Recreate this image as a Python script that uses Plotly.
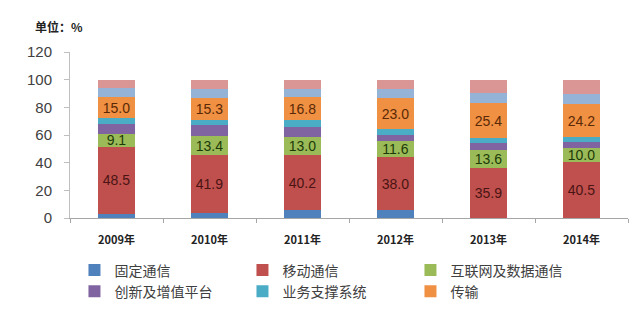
import plotly.graph_objects as go

years = ["2009年", "2010年", "2011年", "2012年", "2013年", "2014年"]
fixed = [3.0, 3.8, 5.5, 5.8, 0.0, 0.0]
mobile = [48.5, 41.9, 40.2, 38.0, 35.9, 40.5]
internet = [9.1, 13.4, 13.0, 11.6, 13.6, 10.0]
innovation = [7.0, 7.8, 7.0, 4.3, 5.0, 4.5]
support = [4.6, 4.2, 4.8, 4.3, 3.0, 3.3]
transport = [15.0, 15.3, 16.8, 23.0, 25.4, 24.2]
other1 = [6.9, 7.1, 6.2, 6.5, 7.5, 7.3]
other2 = [5.9, 6.5, 6.5, 6.5, 9.6, 10.2]

series = [
    ("固定通信", fixed, "#4F81BD", True, False, None),
    ("移动通信", mobile, "#C0504D", True, True, "#4A1414"),
    ("互联网及数据通信", internet, "#9BBB59", True, True, "#1C3A08"),
    ("创新及增值平台", innovation, "#8064A2", True, False, None),
    ("业务支撑系统", support, "#4BACC6", True, False, None),
    ("传输", transport, "#F09043", True, True, "#5A2A06"),
    ("其他1", other1, "#95B3D7", False, False, None),
    ("其他2", other2, "#D99694", False, False, None),
]

fig = go.Figure()
for name, vals, color, show, lab, tcol in series:
    kw = {}
    if lab:
        kw = dict(
            text=[f"{v:.1f}" for v in vals],
            texttemplate="%{text}",
            textposition="inside",
            insidetextanchor="middle",
            textangle=0,
            constraintext="none",
            textfont=dict(family="Liberation Sans, Arial", size=14, color=tcol),
        )
    fig.add_trace(go.Bar(
        x=years, y=vals, name=name, marker=dict(color=color, line=dict(width=0)),
        showlegend=show, **kw))

fig.update_layout(
    barmode="stack",
    bargap=0.6,
    width=640, height=326,
    margin=dict(l=70, r=12, t=52, b=108),
    paper_bgcolor="white", plot_bgcolor="white",
    font=dict(family="Noto Sans CJK SC, Liberation Sans", color="#404040"),
    legend=dict(
        orientation="h", x=0.008, y=-0.22, xanchor="left", yanchor="top",
        entrywidth=123, entrywidthmode="pixels",
        font=dict(size=14, color="#404040", family="Noto Sans CJK SC"),
        itemclick=False, traceorder="normal",
    ),
    annotations=[dict(
        text="<b>单位：%</b>", xref="paper", yref="paper",
        x=-0.066, y=1.155, xanchor="left", yanchor="middle", showarrow=False,
        font=dict(size=12, color="#222222", family="Noto Sans CJK SC"),
    )],
)
fig.update_yaxes(
    range=[0, 120], dtick=20, showgrid=False, zeroline=False,
    showline=True, linecolor="#BFBFBF", linewidth=1,
    ticks="outside", ticklen=5, tickcolor="#BFBFBF",
    tickfont=dict(size=15, color="#404040", family="Liberation Sans, Arial"),
    ticklabelstandoff=9,
)
fig.update_xaxes(
    showgrid=False, showline=True, linecolor="#A6A6A6", linewidth=1,
    ticks="outside", ticklen=4, tickcolor="#A6A6A6", tickson="boundaries",
    tickfont=dict(size=11, color="#222222", family="Noto Sans CJK SC", weight="bold"),
    ticklabelstandoff=12,
)

fig.write_html("out.html")
